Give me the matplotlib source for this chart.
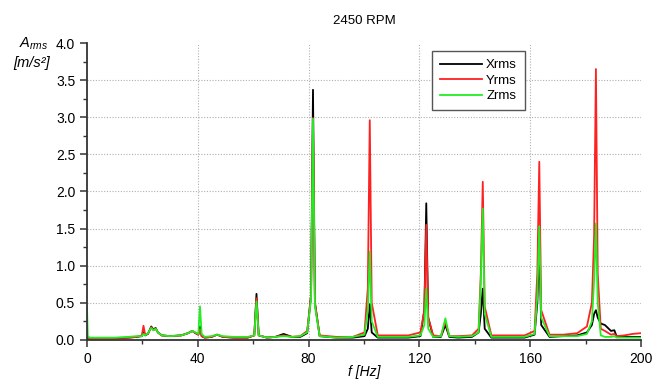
import numpy as np
import matplotlib
matplotlib.use('Agg')
import matplotlib.pyplot as plt

plt.rcParams['font.family'] = ['Liberation Sans', 'DejaVu Sans']
plt.rcParams['mathtext.fontset'] = 'custom'
plt.rcParams['mathtext.it'] = 'Liberation Sans:italic'
plt.rcParams['mathtext.rm'] = 'Liberation Sans'

# spectrum values
freq = [0, 0.3, 1, 5, 10, 15, 18, 19.8, 20.4, 21,
        22, 23.2, 24, 24.8, 25.6, 27, 30, 34, 36.5, 38,
        39.2, 40.2, 40.8, 41.4, 42.5, 45, 47, 49, 53, 58,
        60.4, 61.2, 62, 65, 68, 71, 74, 77, 79.5, 80.9,
        81.6, 82.3, 84, 90, 96, 100.2, 101.4, 102.1, 102.8, 105,
        110, 116, 120.4, 121.8, 122.5, 123.2, 125, 127.8, 129.4, 130.8,
        134, 139, 141.4, 142.2, 142.9, 143.6, 146, 152, 158, 161.6,
        162.6, 163.3, 164.0, 167, 172, 177, 180.5, 182.3, 183.1, 183.75,
        184.4, 185.5, 187, 189.2, 190.4, 191.2, 194, 197, 200]
x_rms = [0.03, 0.02, 0.02, 0.02, 0.02, 0.03, 0.04, 0.05, 0.10, 0.06,
         0.08, 0.18, 0.14, 0.16, 0.10, 0.06, 0.05, 0.06, 0.09, 0.12,
         0.09, 0.07, 0.18, 0.05, 0.03, 0.04, 0.07, 0.04, 0.03, 0.03,
         0.06, 0.62, 0.06, 0.03, 0.04, 0.08, 0.04, 0.04, 0.09, 0.60,
         3.37, 0.50, 0.05, 0.03, 0.03, 0.05, 0.15, 0.48, 0.10, 0.03,
         0.03, 0.03, 0.05, 0.40, 1.84, 0.30, 0.04, 0.04, 0.20, 0.04,
         0.03, 0.04, 0.10, 0.35, 0.69, 0.15, 0.03, 0.03, 0.03, 0.07,
         0.50, 1.23, 0.20, 0.04, 0.05, 0.06, 0.10, 0.20, 0.35, 0.40,
         0.30, 0.22, 0.20, 0.12, 0.13, 0.05, 0.04, 0.04, 0.04]
y_rms = [0.03, 0.02, 0.02, 0.02, 0.025, 0.03, 0.04, 0.06, 0.19, 0.07,
         0.08, 0.17, 0.13, 0.15, 0.10, 0.06, 0.05, 0.06, 0.09, 0.12,
         0.09, 0.07, 0.14, 0.05, 0.03, 0.04, 0.07, 0.04, 0.03, 0.03,
         0.06, 0.56, 0.06, 0.03, 0.04, 0.06, 0.04, 0.05, 0.12, 0.60,
         2.99, 0.50, 0.06, 0.04, 0.04, 0.10, 0.70, 2.96, 0.50, 0.06,
         0.06, 0.06, 0.10, 0.40, 1.55, 0.30, 0.06, 0.05, 0.25, 0.05,
         0.05, 0.06, 0.15, 0.90, 2.13, 0.45, 0.06, 0.06, 0.06, 0.12,
         0.90, 2.40, 0.40, 0.07, 0.07, 0.09, 0.18, 0.50, 1.40, 3.65,
         0.90, 0.15, 0.12, 0.07, 0.08, 0.05, 0.06, 0.08, 0.09]
z_rms = [0.45, 0.05, 0.03, 0.03, 0.03, 0.04, 0.05, 0.05, 0.08, 0.06,
         0.09, 0.16, 0.13, 0.15, 0.10, 0.06, 0.05, 0.06, 0.09, 0.12,
         0.10, 0.08, 0.45, 0.08, 0.04, 0.05, 0.07, 0.05, 0.04, 0.04,
         0.06, 0.52, 0.06, 0.03, 0.04, 0.05, 0.04, 0.05, 0.10, 0.55,
         2.98, 0.45, 0.05, 0.03, 0.04, 0.07, 0.40, 1.19, 0.25, 0.04,
         0.04, 0.04, 0.06, 0.20, 0.69, 0.15, 0.04, 0.05, 0.29, 0.05,
         0.04, 0.05, 0.10, 0.80, 1.77, 0.35, 0.04, 0.04, 0.04, 0.08,
         0.60, 1.53, 0.30, 0.05, 0.05, 0.05, 0.08, 0.25, 0.80, 1.57,
         0.50, 0.06, 0.04, 0.04, 0.05, 0.03, 0.03, 0.03, 0.03]

x_grid = [40, 80, 120, 160]
y_grid = [0.5, 1.0, 1.5, 2.0, 2.5, 3.0, 3.5]

fig = plt.figure(figsize=(6.54, 3.81), dpi=100)
ax = fig.add_axes([0.133, 0.108, 0.847, 0.779])

for v in x_grid:
    ax.axvline(v, color='#b0b0b0', lw=0.8, ls=(0, (1, 1.5)), zorder=0)
for v in y_grid:
    ax.axhline(v, color='#b0b0b0', lw=0.8, ls=(0, (1, 1.5)), zorder=0)

ax.plot(freq, x_rms, color='black', lw=1.3, label='Xrms')
ax.plot(freq, y_rms, color='#ff2020', lw=1.3, label='Yrms')
ax.plot(freq, z_rms, color='#22ee22', lw=1.3, label='Zrms')

ax.set_xlim(0, 200)
ax.set_ylim(0, 4.0)
ax.set_xticks(np.arange(0, 201, 40))
ax.set_xticks(np.arange(20, 200, 40), minor=True)
ax.set_yticks(np.arange(0, 4.01, 0.5))
ax.set_yticks(np.arange(0.25, 4.0, 0.5), minor=True)
ax.set_yticklabels(['%.1f' % v for v in np.arange(0, 4.01, 0.5)])

for s in ['top', 'right']:
    ax.spines[s].set_visible(False)
for s in ['left', 'bottom']:
    ax.spines[s].set_color('#333333')
    ax.spines[s].set_linewidth(1.3)
ax.tick_params(which='major', length=5, width=1.1, color='#333333', labelsize=10)
ax.tick_params(which='minor', length=3, width=1.0, color='#333333')

ax.set_title('2450 RPM', fontsize=9.5, pad=14)
fig.text(0.557, 0.024, 'f [Hz]', fontsize=10, style='italic', ha='center', va='center')
fig.text(0.052, 0.885, r'$A_{rms}$', fontsize=10.5, ha='center', va='center')
fig.text(0.049, 0.835, '[m/s²]', fontsize=10.5, style='italic', ha='center', va='center')

leg = ax.legend(loc='upper left', bbox_to_anchor=(0.623, 0.973), borderaxespad=0,
                fancybox=False, framealpha=1, edgecolor='#555555',
                fontsize=9.5, handlelength=3.2, labelspacing=0.25,
                handletextpad=0.3, borderpad=0.6)
leg.get_frame().set_linewidth(1.0)

fig.savefig('out.png', dpi=100)
